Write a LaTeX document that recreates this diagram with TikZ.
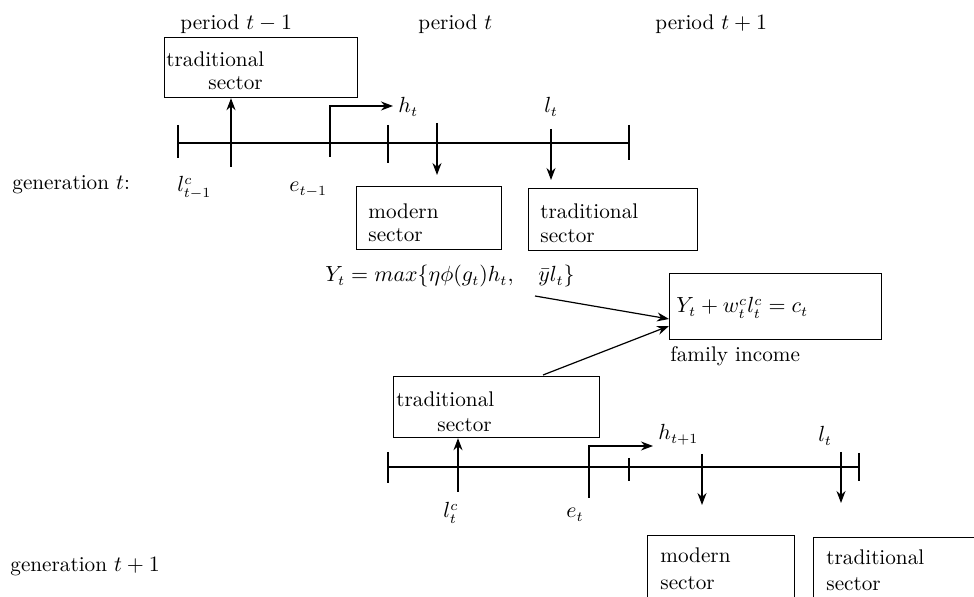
\documentclass[tikz,border=0pt]{standalone}
\usetikzlibrary{arrows.meta}
\begin{document}
\begin{tikzpicture}[x=0.5pt,y=-0.5pt,
  every node/.style={font=\fontsize{10.6}{12}\selectfont},
  lbl/.style={anchor=base west, inner sep=0pt},
  box/.style={draw, line width=0.6pt, anchor=north west, inner sep=0pt},
  ln/.style={line width=0.6pt},
  arr/.style={line width=0.6pt, -{Stealth[length=6pt,width=4.5pt]}}]
\useasboundingbox (0,0) rectangle (974,597);
\clip (0,0) rectangle (974,597);

% period labels
\node[lbl] (p1) at (180,30) {period $t-1$};
\node[lbl] (p2) at (418,30) {period $t$};
\node[lbl] (p3) at (655,30) {period $t+1$};

% ---------- generation t ----------
\node[box, minimum width=96.5pt, minimum height=30pt] (tradA) at (164,37) {};
\node[lbl] (tradAt1) at (166,67) {traditional};
\node[lbl] (tradAt2) at (208,90) {sector};

\coordinate (A0) at (178,143);
\coordinate (A1) at (629,143);
\draw[ln] (A0) -- (A1);
\draw[ln] (178,125) -- (178,158);
\draw[ln] (388,125) -- (388,163);
\draw[ln] (629,125) -- (629,160);

\coordinate (uA) at (231,167);
\draw[arr] (uA) -- (uA |- tradA.south);

\node[lbl] (ht) at (398,113) {$h_t$};
\coordinate (eA) at (330,157);
\coordinate (eAc) at (330,106);
\draw[arr, shorten >=2.5pt] (eA) -- (eAc) -- (ht.west |- eAc);

\node[lbl] (lt) at (544,113) {$l_t$};
\coordinate (dA1) at (437,123);
\coordinate (dA2) at (551,129);

\node[lbl] (gen1) at (12,190) {generation $t$:};
\node[lbl] (lc1) at (177,192) {$l^c_{t-1}$};
\node[lbl] (e1) at (289,192) {$e_{t-1}$};

\node[box, minimum width=72.5pt, minimum height=31.5pt] (modA) at (356,186) {};
\node[lbl] (modAt1) at (368,219) {modern};
\node[lbl] (modAt2) at (368,242) {sector};

\node[box, minimum width=84.5pt, minimum height=31pt] (tradB) at (528,188) {};
\node[lbl] (tradBt1) at (540,219) {traditional};
\node[lbl] (tradBt2) at (540,243) {sector};

\draw[arr] (dA1) -- (437,175);
\draw[arr] (dA2) -- (551,180);

\node[lbl] (Y) at (325,282) {$Y_t = max\{\eta\phi(g_t)h_t, \quad \bar{y}l_t\}$};

\node[box, minimum width=106pt, minimum height=33pt] (fam) at (669,273) {};
\node[lbl] (famt) at (676,313) {$Y_t + w^c_t l^c_t = c_t$};
\node[lbl] (famlab) at (670,362) {family income};

\coordinate (a1s) at (535,296);
\draw[arr] (a1s) -- (fam.west |- 0,319);

% ---------- generation t+1 ----------
\node[box, minimum width=103pt, minimum height=30.5pt] (tradC) at (393,376) {};
\node[lbl] (tradCt1) at (396,407) {traditional};
\node[lbl] (tradCt2) at (437,432) {sector};

\coordinate (a2s) at (543,375);
\draw[arr] (a2s) -- (fam.west |- 0,326);

\coordinate (B0) at (388,467);
\coordinate (B1) at (859,467);
\draw[ln] (B0) -- (B1);
\draw[ln] (388,452) -- (388,483);
\draw[ln] (629,458) -- (629,481);
\draw[ln] (859,453) -- (859,481);

\coordinate (uB) at (458,492);
\draw[arr] (uB) -- (uB |- tradC.south);

\node[lbl] (ht1) at (658,440) {$h_{t+1}$};
\coordinate (eB) at (589,498);
\coordinate (eBc) at (589,446);
\draw[arr, shorten >=2.5pt] (eB) -- (eBc) -- (ht1.west |- eBc);

\node[lbl] (lt2) at (818,442) {$l_t$};
\draw[arr] (702,454) -- (702,505);
\draw[arr] (841,452) -- (841,503);

\node[lbl] (gen2) at (10,572) {generation $t+1$};
\node[lbl] (lc2) at (443,518) {$l^c_t$};
\node[lbl] (e2) at (566,518) {$e_t$};

\node[box, minimum width=73.5pt, minimum height=43pt] (modC) at (647,535) {};
\node[lbl] (modCt1) at (660,563) {modern};
\node[lbl] (modCt2) at (660,590) {sector};

\node[box, minimum width=90pt, minimum height=42pt] (tradD) at (813,537) {};
\node[lbl] (tradDt1) at (826,565) {traditional};
\node[lbl] (tradDt2) at (826,591) {sector};
\end{tikzpicture}
\end{document}
